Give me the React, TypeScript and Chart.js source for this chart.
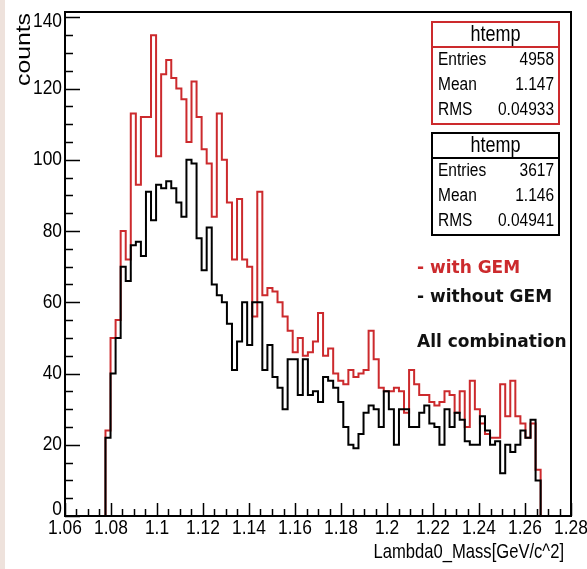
import React, { useEffect, useRef } from "react";
import { Chart, registerables } from "chart.js";

Chart.register(...registerables);

// Histogram binning (ROOT htemp: 100 bins over the auto range)
const X_MIN = 1.06;
const X_MAX = 1.28;
const N_BINS = 100;
const FIRST_FILLED_BIN = 8;
const Y_MAX = 141.5;

// Lambda0 candidate counts per bin, starting at FIRST_FILLED_BIN
const withGemCounts = [
  24, 50, 55, 80, 72, 113, 93, 112, 112, 135,
  101, 124, 128, 123, 120, 117, 105, 122, 112, 103,
  99, 84, 113, 100, 88, 72, 89, 72, 70, 56,
  91, 62, 64, 63, 60, 56, 52, 46, 50, 45,
  46, 49, 57, 45, 47, 40, 38, 37, 41, 39,
  40, 41, 52, 44, 36, 35, 35, 36, 35, 29,
  41, 37, 34, 34, 32, 31, 32, 35, 34, 29,
  35, 25, 38, 30, 26, 23, 22, 22, 37, 28,
  38, 28, 26, 22, 26, 13,
];

const withoutGemCounts = [
  22, 40, 50, 70, 66, 76, 77, 73, 91, 83,
  93, 92, 94, 92, 88, 84, 100, 99, 78, 69,
  81, 65, 62, 60, 54, 41, 49, 60, 48, 60,
  60, 41, 48, 39, 36, 30, 44, 44, 34, 44,
  34, 35, 32, 39, 38, 36, 32, 25, 20, 19,
  23, 29, 31, 30, 25, 35, 30, 20, 30, 30,
  25, 25, 29, 31, 26, 25, 20, 30, 25, 29,
  27, 21, 20, 20, 28, 24, 20, 21, 12, 20,
  18, 20, 24, 22, 27, 10,
];

const xTickLabels = ["1.06", "1.08", "1.1", "1.12", "1.14", "1.16", "1.18", "1.2", "1.22", "1.24", "1.26", "1.28"];
const yTickLabels = ["0", "20", "40", "60", "80", "100", "120", "140"];

const statWithGem = { title: "htemp", rows: [["Entries", "4958"], ["Mean", "1.147"], ["RMS", "0.04933"]] };
const statWithoutGem = { title: "htemp", rows: [["Entries", "3617"], ["Mean", "1.146"], ["RMS", "0.04941"]] };

const RED = "#cc2a2d";
const BLACK = "#000000";
const FONT = "'Liberation Sans', Arial, Helvetica, sans-serif";
const STRETCH = 1.18;

// Step outline: one point at every bin's low edge plus the closing edge.
function stepPoints(counts: number[]) {
  const width = (X_MAX - X_MIN) / N_BINS;
  const pts: { x: number; y: number }[] = [];
  for (let i = 0; i < N_BINS; i++) {
    const k = i - FIRST_FILLED_BIN;
    const v = k >= 0 && k < counts.length ? counts[k] : 0;
    pts.push({ x: X_MIN + i * width, y: v });
  }
  pts.push({ x: X_MAX, y: 0 });
  return pts;
}

function text(
  ctx: CanvasRenderingContext2D,
  s: string,
  x: number,
  y: number,
  font: string,
  align: CanvasTextAlign,
  baseline: CanvasTextBaseline,
  color = "#000",
  sy = STRETCH
) {
  ctx.save();
  ctx.translate(x, y);
  ctx.scale(1, sy);
  ctx.font = font;
  ctx.textAlign = align;
  ctx.textBaseline = baseline;
  ctx.fillStyle = color;
  ctx.fillText(s, 0, 0);
  ctx.restore();
}

function statBox(
  ctx: CanvasRenderingContext2D,
  stat: { title: string; rows: string[][] },
  top: number,
  color: string
) {
  const left = 432;
  const right = 559;
  const headerH = 25;
  const rowH = 25;
  const bottom = top + headerH + rowH * stat.rows.length + 2;
  ctx.save();
  ctx.fillStyle = "#fff";
  ctx.fillRect(left, top, right - left, bottom - top);
  ctx.strokeStyle = color;
  ctx.lineWidth = 2;
  ctx.strokeRect(left, top, right - left, bottom - top);
  ctx.beginPath();
  ctx.moveTo(left, top + headerH);
  ctx.lineTo(right, top + headerH);
  ctx.stroke();
  ctx.restore();
  text(ctx, stat.title, (left + right) / 2, top + headerH / 2 + 1, `18px ${FONT}`, "center", "middle");
  stat.rows.forEach((r, i) => {
    const cy = top + headerH + 13 + i * rowH;
    text(ctx, r[0], left + 6, cy, `15.5px ${FONT}`, "left", "middle");
    text(ctx, r[1], right - 5, cy, `15.5px ${FONT}`, "right", "middle");
  });
}

const rootStyle = {
  id: "rootStyle",
  beforeDraw(chart: any) {
    const ctx: CanvasRenderingContext2D = chart.ctx;
    ctx.save();
    ctx.fillStyle = "#ffffff";
    ctx.fillRect(0, 0, chart.width, chart.height);
    ctx.fillStyle = "#eee2dc";
    ctx.fillRect(0, 0, 5, chart.height);
    ctx.restore();
  },
  afterDraw(chart: any) {
    const ctx: CanvasRenderingContext2D = chart.ctx;
    const xs = chart.scales.x;
    const ys = chart.scales.y;
    const { left, right, top, bottom } = chart.chartArea;

    // frame
    ctx.save();
    ctx.strokeStyle = "#000";
    ctx.lineWidth = 2;
    ctx.strokeRect(left, top, right - left, bottom - top);

    // x ticks: major every 0.02, minor every 0.005
    ctx.lineWidth = 1.5;
    ctx.beginPath();
    for (let k = 0; k <= 44; k++) {
      const px = Math.round(xs.getPixelForValue(X_MIN + k * 0.005)) + 0.5;
      const len = k % 4 === 0 ? 13 : 7;
      ctx.moveTo(px, bottom);
      ctx.lineTo(px, bottom - len);
    }
    // y ticks: major every 20, minor every 5
    for (let k = 0; k <= 28; k++) {
      const py = Math.round(ys.getPixelForValue(k * 5)) + 0.5;
      const len = k % 4 === 0 ? 15 : 8;
      ctx.moveTo(left, py);
      ctx.lineTo(left + len, py);
    }
    ctx.stroke();
    ctx.restore();

    // tick labels
    const labelFont = `17.4px ${FONT}`;
    xTickLabels.forEach((s, i) => {
      const px = xs.getPixelForValue(X_MIN + i * 0.02);
      text(ctx, s, px, 534, labelFont, "center", "alphabetic");
    });
    yTickLabels.forEach((s, i) => {
      let py = ys.getPixelForValue(i * 20);
      if (i === 0) py -= 7;
      if (i === yTickLabels.length - 1) py += 4;
      text(ctx, s, left - 3, py, labelFont, "right", "middle");
    });

    // axis titles
    text(ctx, "Lambda0_Mass[GeV/c^2]", 564, 558, `16.6px ${FONT}`, "right", "alphabetic");
    ctx.save();
    ctx.translate(30, 13);
    ctx.rotate(-Math.PI / 2);
    ctx.scale(STRETCH, 1);
    ctx.font = `21px ${FONT}`;
    ctx.textAlign = "right";
    ctx.textBaseline = "alphabetic";
    ctx.fillStyle = "#000";
    ctx.fillText("counts", 0, 0);
    ctx.restore();

    // statistics boxes
    statBox(ctx, statWithGem, 22, RED);
    statBox(ctx, statWithoutGem, 133, BLACK);

    // annotations
    const noteFont = `bold 17px 'DejaVu Sans', sans-serif`;
    text(ctx, "- with GEM", 417, 273, noteFont, "left", "alphabetic", RED, 1);
    text(ctx, "- without GEM", 417, 301.5, noteFont, "left", "alphabetic", "#111", 1);
    text(ctx, "All combination", 417, 346.5, noteFont, "left", "alphabetic", "#111", 1);
  },
};

export default function App() {
  const ref = useRef<HTMLCanvasElement>(null);

  useEffect(() => {
    if (!ref.current) return;
    const chart = new Chart(ref.current, {
      type: "line",
      data: {
        datasets: [
          {
            label: "with GEM",
            data: stepPoints(withGemCounts),
            borderColor: RED,
            borderWidth: 2,
            stepped: "before",
            pointRadius: 0,
            fill: false,
            order: 2,
          },
          {
            label: "without GEM",
            data: stepPoints(withoutGemCounts),
            borderColor: BLACK,
            borderWidth: 2,
            stepped: "before",
            pointRadius: 0,
            fill: false,
            order: 1,
          },
        ],
      },
      options: {
        responsive: false,
        animation: false,
        devicePixelRatio: 1,
        layout: { padding: { left: 65, right: 16, top: 12, bottom: 53 } },
        plugins: { legend: { display: false }, tooltip: { enabled: false } },
        scales: {
          x: { type: "linear", min: X_MIN, max: X_MAX, display: false },
          y: { type: "linear", min: 0, max: Y_MAX, display: false },
        },
      },
      plugins: [rootStyle],
    } as any);
    return () => chart.destroy();
  }, []);

  return (
    <canvas
      ref={ref}
      width={587}
      height={569}
      style={{ position: "fixed", left: 0, top: 0, width: 587, height: 569 }}
    />
  );
}
